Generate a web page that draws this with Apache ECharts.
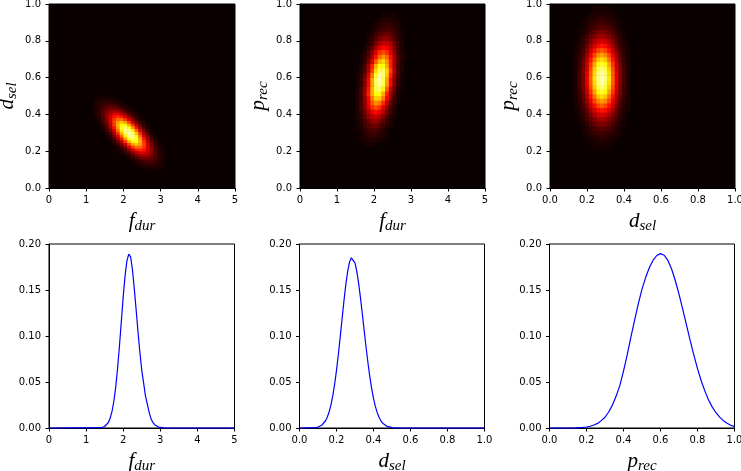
<!DOCTYPE html>
<html>
<head>
<meta charset="utf-8">
<script src="https://cdn.jsdelivr.net/npm/echarts/dist/echarts.min.js"></script>
<style>html,body{margin:0;padding:0;background:#fff}#chart{width:741px;height:471px}</style>
</head>
<body>
<div id="chart"></div>
<script>
// ---------------- tick values / labels ----------------
const fdurTicks = [0, 1, 2, 3, 4, 5];
const fdurTickLabels = ['0', '1', '2', '3', '4', '5'];
const unitTicks = [0, 0.2, 0.4, 0.6, 0.8, 1.0];
const unitTickLabels = ['0.0', '0.2', '0.4', '0.6', '0.8', '1.0'];
const probTicks = [0, 0.05, 0.10, 0.15, 0.20];
const probTickLabels = ['0.00', '0.05', '0.10', '0.15', '0.20'];

// ---------------- heatmap 1: f_dur (x) vs d_sel (y), value in % of max ----------------
const heat1CellW = 0.1, heat1CellH = 0.015;
const heat1Y = [0.105,0.12,0.135,0.15,0.165,0.18,0.195,0.21,0.225,0.24,0.255,0.27,0.285,0.30,0.315,0.33,0.345,0.36,0.375,0.39,0.405,0.42,0.435,0.45,0.465,0.48,0.495];
const heat1X0 = [2.65,2.45,2.35,2.25,2.15,2.05,1.95,1.85,1.85,1.75,1.65,1.65,1.55,1.55,1.45,1.45,1.35,1.35,1.35,1.25,1.25,1.25,1.25,1.25,1.25,1.25,1.35];
const heat1V = [
  [2,2,2,2],
  [2,3,4,4,4,3,2],
  [3,4,6,7,7,6,4,3],
  [3,5,8,10,11,10,8,5,3],
  [3,6,10,14,17,17,14,10,6,3],
  [3,6,11,18,23,25,23,18,11,6,3],
  [3,6,12,20,28,34,34,28,20,12,6,3],
  [2,5,11,21,32,42,46,42,32,21,11,5,2],
  [4,10,20,34,48,57,57,48,34,20,10,4],
  [3,8,18,32,50,65,71,65,50,32,18,8,3],
  [2,6,14,28,48,68,80,80,68,48,28,14,6,2],
  [4,10,23,42,65,84,92,84,65,42,23,10,4],
  [2,7,17,34,57,80,96,96,80,57,34,17,7,2],
  [4,11,25,46,71,92,100,92,71,46,25,11,4],
  [2,7,17,34,57,80,96,96,80,57,34,17,7,2],
  [4,10,23,42,65,84,92,84,65,42,23,10,4],
  [2,6,14,28,48,68,80,80,68,48,28,14,6,2],
  [3,8,18,32,50,65,71,65,50,32,18,8,3],
  [4,10,20,34,48,57,57,48,34,20,10,4],
  [2,5,11,21,32,42,46,42,32,21,11,5,2],
  [3,6,12,20,28,34,34,28,20,12,6,3],
  [3,6,11,18,23,25,23,18,11,6,3],
  [3,6,10,14,17,17,14,10,6,3],
  [3,5,8,10,11,10,8,5,3],
  [3,4,6,7,7,6,4,3],
  [2,3,4,4,4,3,2],
  [2,2,2,2]
];

// ---------------- heatmap 2: f_dur (x) vs p_rec (y) ----------------
const heat2CellW = 0.1, heat2CellH = 0.025;
const heat2Y = [0.24,0.265,0.29,0.315,0.34,0.365,0.39,0.415,0.44,0.465,0.49,0.515,0.54,0.565,0.59,0.615,0.64,0.665,0.69,0.715,0.74,0.765,0.79,0.815,0.84,0.865,0.89,0.915,0.94];
const heat2X0 = [1.75,1.65,1.65,1.55,1.55,1.55,1.55,1.55,1.55,1.55,1.55,1.55,1.55,1.55,1.55,1.55,1.65,1.65,1.65,1.65,1.75,1.75,1.85,1.85,1.95,1.95,2.05,2.15,2.25];
const heat2V = [
  [2,2,3,2],
  [2,3,4,4,4,3,2],
  [2,4,6,7,6,5,3,2],
  [2,3,6,9,10,10,8,5,2],
  [2,4,8,12,15,15,12,8,4,2],
  [2,5,10,16,21,22,19,13,7,3],
  [3,7,14,22,28,30,26,18,10,5,2],
  [3,8,16,26,36,40,36,26,16,8,3],
  [4,10,20,34,46,51,46,34,20,10,4],
  [4,10,21,37,53,62,59,46,29,15,6,2],
  [3,9,21,39,59,72,72,59,39,21,9,3],
  [4,10,24,44,67,82,82,67,44,24,10,4],
  [3,9,22,42,68,88,92,79,55,31,14,5,2],
  [2,7,19,39,65,89,98,89,65,39,19,7,2],
  [2,8,19,39,66,90,100,90,66,39,19,8,2],
  [2,6,15,33,58,84,98,93,72,45,23,10,3],
  [4,11,26,49,74,90,90,74,49,26,11,4],
  [4,10,24,44,67,82,82,67,44,24,10,4],
  [2,7,17,34,54,70,74,63,44,25,11,4],
  [2,5,12,25,41,56,63,56,41,25,12,5,2],
  [4,10,20,34,46,51,46,34,20,10,4],
  [2,6,13,24,34,40,38,29,18,9,4],
  [4,8,16,24,29,29,24,16,8,4],
  [3,6,11,17,21,21,17,11,6,3],
  [4,7,11,14,15,13,9,5,2],
  [2,4,7,9,10,9,7,4,2],
  [3,4,6,7,6,4,3],
  [2,4,4,4,3,2],
  [2,2,2,2]
];

// ---------------- heatmap 3: d_sel (x) vs p_rec (y) ----------------
const heat3CellW = 0.02, heat3CellH = 0.025;
const heat3Y = [0.225,0.25,0.275,0.30,0.325,0.35,0.375,0.40,0.425,0.45,0.475,0.50,0.525,0.55,0.575,0.60,0.625,0.65,0.675,0.70,0.725,0.75,0.775,0.80,0.825,0.85,0.875,0.90,0.925,0.95,0.975];
const heat3X0 = [0.24,0.22,0.20,0.18,0.18,0.16,0.16,0.16,0.14,0.14,0.14,0.14,0.14,0.14,0.14,0.14,0.14,0.14,0.14,0.14,0.14,0.14,0.14,0.16,0.16,0.16,0.18,0.18,0.20,0.22,0.24];
const heat3V = [
  [2,2,2,2,2],
  [2,3,3,3,3,3,2],
  [2,3,4,5,6,5,4,3,2],
  [2,3,5,7,8,8,8,7,5,3,2],
  [2,4,7,10,12,13,12,10,7,4,2],
  [2,3,6,10,14,17,18,17,14,10,6,3,2],
  [2,5,9,14,19,23,25,23,19,14,9,5,2],
  [3,6,12,18,26,31,33,31,26,18,12,6,3],
  [2,4,8,15,24,33,40,43,40,33,24,15,8,4,2],
  [2,5,10,19,30,41,50,54,50,41,30,19,10,5,2],
  [3,6,12,23,36,50,61,65,61,50,36,23,12,6,3],
  [3,7,15,26,42,58,71,76,71,58,42,26,15,7,3],
  [3,8,16,30,47,66,80,86,80,66,47,30,16,8,3],
  [4,9,18,32,51,72,87,93,87,72,51,32,18,9,4],
  [4,9,19,34,54,75,92,98,92,75,54,34,19,9,4],
  [4,9,19,35,55,77,94,100,94,77,55,35,19,9,4],
  [4,9,19,34,54,75,92,98,92,75,54,34,19,9,4],
  [4,9,18,32,51,72,87,93,87,72,51,32,18,9,4],
  [3,8,16,30,47,66,80,86,80,66,47,30,16,8,3],
  [3,7,15,26,42,58,71,76,71,58,42,26,15,7,3],
  [3,6,12,23,36,50,61,65,61,50,36,23,12,6,3],
  [2,5,10,19,30,41,50,54,50,41,30,19,10,5,2],
  [2,4,8,15,24,33,40,43,40,33,24,15,8,4,2],
  [3,6,12,18,26,31,33,31,26,18,12,6,3],
  [2,5,9,14,19,23,25,23,19,14,9,5,2],
  [2,3,6,10,14,17,18,17,14,10,6,3,2],
  [2,4,7,10,12,13,12,10,7,4,2],
  [2,3,5,7,8,8,8,7,5,3,2],
  [2,3,4,5,6,5,4,3,2],
  [2,3,3,3,3,3,2],
  [2,2,2,2,2]
];

// ---------------- marginal curves ----------------
const fdurX = [0,1.40,1.45,1.50,1.55,1.60,1.65,1.70,1.75,1.80,1.85,1.90,1.95,2.00,2.05,2.10,2.15,2.20,2.25,2.30,2.35,2.40,2.45,2.50,2.55,2.60,2.65,2.70,2.75,2.80,2.85,2.90,2.95,3.00,3.10,5];
const fdurY = [0,0.0003,0.0007,0.0016,0.0031,0.0060,0.0108,0.0184,0.0296,0.0453,0.0655,0.0897,0.1162,0.1425,0.1654,0.1816,0.1890,0.1860,0.1720,0.1510,0.1280,0.1040,0.0820,0.0630,0.0490,0.0350,0.0260,0.0170,0.0100,0.0060,0.0036,0.0020,0.0010,0.0005,0.0001,0];

const dselX = [0,0.08,0.09,0.10,0.11,0.12,0.13,0.14,0.15,0.16,0.17,0.18,0.19,0.20,0.21,0.22,0.23,0.24,0.25,0.26,0.27,0.28,0.29,0.30,0.31,0.32,0.33,0.34,0.35,0.36,0.37,0.38,0.39,0.40,0.41,0.42,0.43,0.44,0.45,0.46,0.47,0.48,0.50,0.55,1.0];
const dselY = [0,0.0003,0.0006,0.0010,0.0018,0.0030,0.0048,0.0076,0.0117,0.0174,0.0251,0.0351,0.0476,0.0626,0.0799,0.0988,0.1184,0.1377,0.1553,0.1698,0.1800,0.1850,0.1846,0.1794,0.1699,0.1567,0.1409,0.1234,0.1052,0.0875,0.0709,0.0559,0.0430,0.0322,0.0235,0.0167,0.0116,0.0078,0.0052,0.0033,0.0021,0.0012,0.0004,0,0];

const precX = [0,0.10,0.14,0.18,0.20,0.22,0.24,0.26,0.28,0.30,0.32,0.34,0.36,0.38,0.40,0.42,0.44,0.46,0.48,0.50,0.52,0.54,0.56,0.58,0.60,0.62,0.64,0.66,0.68,0.70,0.72,0.74,0.76,0.78,0.80,0.82,0.84,0.86,0.88,0.90,0.92,0.94,0.96,0.98,1.00];
const precY = [0,0,0.0002,0.0006,0.0011,0.0019,0.0033,0.0050,0.0080,0.0117,0.0174,0.0249,0.0344,0.0461,0.0619,0.0794,0.0988,0.1173,0.1349,0.1509,0.1638,0.1744,0.1824,0.1875,0.1895,0.1878,0.1821,0.1728,0.1603,0.1456,0.1293,0.1124,0.0955,0.0794,0.0646,0.0514,0.0401,0.0305,0.0227,0.0166,0.0118,0.0080,0.0052,0.0030,0.0015];

// ---------------- builders ----------------
function buildCells(rowY, rowX0, rowV, cellW) {
  const out = [];
  rowY.forEach((y, i) => {
    rowV[i].forEach((v, j) => out.push([+(rowX0[i] + j * cellW).toFixed(4), y, v]));
  });
  return out;
}
function pairs(xs, ys) { return xs.map((x, i) => [x, ys[i]]); }

const hotColors = ['#0b0000','#2c0000','#4e0000','#6f0000','#900000','#b20000','#d30000','#f50000','#ff1700','#ff3900','#ff5a00','#ff7c00','#ff9d00','#ffbf00','#ffe000','#ffff04','#ffff36','#ffff68','#ffff9b','#ffffcd','#ffffff'];

const nameRich = {
  m: { fontFamily: 'Liberation Serif', fontStyle: 'italic', fontSize: 21, color: '#000' },
  s: { fontFamily: 'Liberation Serif', fontStyle: 'italic', fontSize: 15, color: '#000', padding: [10, 0, 0, 0] }
};

function mkAxis(kind, gridIndex, ticks, labels, name) {
  const ax = {
    type: 'value', gridIndex: gridIndex,
    min: ticks[0], max: ticks[ticks.length - 1], interval: +(ticks[1] - ticks[0]).toFixed(6),
    axisLine: { show: true, onZero: false, lineStyle: { color: '#000', width: 1 } },
    axisTick: { show: true, inside: false, length: 3.5, lineStyle: { color: '#000', width: 1 } },
    axisLabel: {
      show: true, margin: kind === 'x' ? 7 : 8, fontFamily: 'DejaVu Sans', fontSize: 10, color: '#000',
      showMinLabel: true, showMaxLabel: true, hideOverlap: false,
      formatter: function (v) {
        const i = ticks.findIndex(t => Math.abs(t - v) < 1e-6);
        return i >= 0 ? labels[i] : '';
      }
    },
    splitLine: { show: false },
    axisPointer: { show: false }
  };
  if (name) {
    ax.name = name;
    ax.nameLocation = 'middle';
    ax.nameTextStyle = { rich: nameRich };
    if (kind === 'x') { ax.nameGap = 21; }
    else { ax.nameGap = 29; ax.nameRotate = 90; }
  }
  return ax;
}

function cellRenderer(cw, ch) {
  return function (params, api) {
    const x = api.value(0), y = api.value(1);
    const a = api.coord([x - cw / 2, y + ch / 2]);
    const b = api.coord([x + cw / 2, y - ch / 2]);
    return {
      type: 'rect',
      shape: { x: a[0], y: a[1], width: b[0] - a[0] + 0.5, height: b[1] - a[1] + 0.5 },
      style: { fill: api.visual('color') }
    };
  };
}

const heatGrid = { show: true, backgroundColor: '#0b0000', borderColor: '#000', borderWidth: 1, outerBoundsMode: 'none', containLabel: false };
const lineGrid = { show: true, backgroundColor: 'transparent', borderColor: '#000', borderWidth: 1, outerBoundsMode: 'none', containLabel: false };

const NF = '{m|f}{s|dur}', ND = '{m|d}{s|sel}', NP = '{m|p}{s|rec}';

const option = {
  animation: false,
  backgroundColor: '#ffffff',
  grid: [
    Object.assign({ left: 49, top: 4, width: 186, height: 184 }, heatGrid),
    Object.assign({ left: 300, top: 4, width: 185, height: 184 }, heatGrid),
    Object.assign({ left: 550, top: 4, width: 185, height: 184 }, heatGrid),
    Object.assign({ left: 49, top: 244, width: 185.5, height: 184 }, lineGrid),
    Object.assign({ left: 299.5, top: 244, width: 185, height: 184 }, lineGrid),
    Object.assign({ left: 549.5, top: 244, width: 185, height: 184 }, lineGrid)
  ],
  xAxis: [
    mkAxis('x', 0, fdurTicks, fdurTickLabels, NF),
    mkAxis('x', 1, fdurTicks, fdurTickLabels, NF),
    mkAxis('x', 2, unitTicks, unitTickLabels, ND),
    mkAxis('x', 3, fdurTicks, fdurTickLabels, NF),
    mkAxis('x', 4, unitTicks, unitTickLabels, ND),
    mkAxis('x', 5, unitTicks, unitTickLabels, NP)
  ],
  yAxis: [
    mkAxis('y', 0, unitTicks, unitTickLabels, ND),
    mkAxis('y', 1, unitTicks, unitTickLabels, NP),
    mkAxis('y', 2, unitTicks, unitTickLabels, NP),
    mkAxis('y', 3, probTicks, probTickLabels, null),
    mkAxis('y', 4, probTicks, probTickLabels, null),
    mkAxis('y', 5, probTicks, probTickLabels, null)
  ],
  visualMap: [0, 1, 2].map(i => ({
    type: 'continuous', show: false, seriesIndex: i, dimension: 2,
    min: 0, max: 108, inRange: { color: hotColors }
  })),
  series: [
    { type: 'custom', xAxisIndex: 0, yAxisIndex: 0, renderItem: cellRenderer(heat1CellW, heat1CellH), encode: { x: 0, y: 1 }, data: buildCells(heat1Y, heat1X0, heat1V, heat1CellW), clip: true, silent: true },
    { type: 'custom', xAxisIndex: 1, yAxisIndex: 1, renderItem: cellRenderer(heat2CellW, heat2CellH), encode: { x: 0, y: 1 }, data: buildCells(heat2Y, heat2X0, heat2V, heat2CellW), clip: true, silent: true },
    { type: 'custom', xAxisIndex: 2, yAxisIndex: 2, renderItem: cellRenderer(heat3CellW, heat3CellH), encode: { x: 0, y: 1 }, data: buildCells(heat3Y, heat3X0, heat3V, heat3CellW), clip: true, silent: true },
    { type: 'line', xAxisIndex: 3, yAxisIndex: 3, data: pairs(fdurX, fdurY), showSymbol: false, symbol: 'none', clip: false, lineStyle: { color: '#0000ff', width: 1.2 }, silent: true },
    { type: 'line', xAxisIndex: 4, yAxisIndex: 4, data: pairs(dselX, dselY), showSymbol: false, symbol: 'none', clip: false, lineStyle: { color: '#0000ff', width: 1.2 }, silent: true },
    { type: 'line', xAxisIndex: 5, yAxisIndex: 5, data: pairs(precX, precY), showSymbol: false, symbol: 'none', clip: false, lineStyle: { color: '#0000ff', width: 1.2 }, silent: true }
  ]
};

const chart = echarts.init(document.getElementById('chart'), null, { renderer: 'canvas' });
chart.setOption(option);
</script>
</body>
</html>
